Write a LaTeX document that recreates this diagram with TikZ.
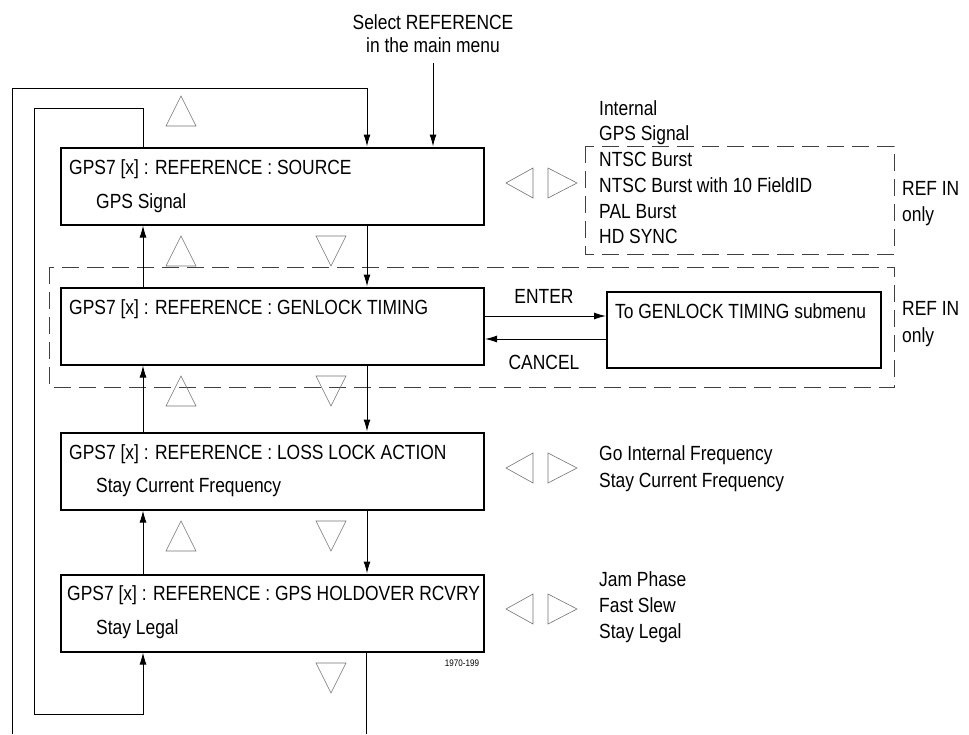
\documentclass[tikz,border=0pt]{standalone}
\usepackage{fontspec}
\setmainfont[FakeStretch=0.85]{Liberation Sans}
\usetikzlibrary{arrows.meta}
\begin{document}
\begin{tikzpicture}[x=1pt,y=-1pt,
  font=\fontsize{20.5}{24}\selectfont,
  menubox/.style={draw=black,line width=2pt,minimum width=423pt,minimum height=77pt,inner sep=0pt},
  subbox/.style={draw=black,line width=2pt,minimum width=274pt,minimum height=76pt,inner sep=0pt},
  txt/.style={anchor=base west,inner sep=0pt},
  ctxt/.style={anchor=base,inner sep=0pt},
  arr/.style={line width=1pt,-{Latex[length=12pt,width=7pt]}},
  ln/.style={line width=1pt},
  dbox/.style={draw=black!75,line width=1pt,dash pattern=on 17pt off 8pt},
  tri/.style={draw=black!55,line width=0.6pt},
  uptri/.pic={\draw[tri] (-15,15) -- (15,15) -- (0,-15) -- cycle;},
  dntri/.pic={\draw[tri] (-15,-15) -- (15,-15) -- (0,15) -- cycle;},
  lftri/.pic={\draw[tri] (13.5,-15) -- (13.5,15) -- (-13.5,0) -- cycle;},
  rttri/.pic={\draw[tri] (-14.5,-15) -- (-14.5,15) -- (14.5,0) -- cycle;},
]
\useasboundingbox (0,0) rectangle (969,734);

% dashed regions
\draw[dbox] (585,146) rectangle (894,254);
\draw[dbox] (49,267) rectangle (894,387);

% menu boxes
\node[menubox] (b1) at (272.5,186) {};
\node[menubox] (b2) at (272.5,326) {};
\node[menubox] (b3) at (272.5,471) {};
\node[menubox] (b4) at (272.5,613) {};
\node[subbox] (sub) at (744,330) {};

% box texts
\node[txt] (t1a) at (69,174) {GPS7 [x] : REFERENCE : SOURCE};
\node[txt] (t1b) at (96,208) {GPS Signal};
\node[txt] (t2a) at (69,314) {GPS7 [x] : REFERENCE : GENLOCK TIMING};
\node[txt] (t3a) at (69,459) {GPS7 [x] : REFERENCE : LOSS LOCK ACTION};
\node[txt] (t3b) at (96,492) {Stay Current Frequency};
\node[txt] (t4a) at (67,600) {GPS7 [x] : REFERENCE : GPS HOLDOVER RCVRY};
\node[txt] (t4b) at (96,634) {Stay Legal};
\node[txt] (tsub) at (615,318) {To GENLOCK TIMING submenu};

% select label
\node[ctxt] (sel1) at (433,29) {Select REFERENCE};
\node[ctxt] (sel2) at (433,52) {in the main menu};
\coordinate (selst) at (433,63);
\draw[arr] (selst) -- (selst |- b1.north);

% loops
\coordinate (oT) at (367,88);
\coordinate (oL) at (12,734);
\coordinate (oB) at (366,734);
\draw[arr] (oL) |- (oT) -- (oT |- b1.north);
\draw[ln] (b4.south -| oB) -- (oB);
\coordinate (iT) at (143,108);
\coordinate (iB) at (34,714);
\draw[arr] (b1.north -| iT) -- (iT) -| (iB) -| (b4.south -| iT);

% up arrows
\draw[arr] (b2.north -| iT) -- (b1.south -| iT);
\draw[arr] (b3.north -| iT) -- (b2.south -| iT);
\draw[arr] (b4.north -| iT) -- (b3.south -| iT);
% down arrows
\draw[arr] (b1.south -| oT) -- (b2.north -| oT);
\draw[arr] (b2.south -| oT) -- (b3.north -| oT);
\draw[arr] (b3.south -| oT) -- (b4.north -| oT);

% enter / cancel
\draw[arr] (b2.east |- 0,316) -- (sub.west |- 0,316);
\draw[arr] (sub.west |- 0,339) -- (b2.east |- 0,339);
\node[ctxt] (enter) at (544,303) {ENTER};
\node[ctxt] (cancel) at (544,369) {CANCEL};

% triangles
\pic at (181,111) {uptri};
\pic at (181,251) {uptri};
\pic at (181,391) {uptri};
\pic at (181,536) {uptri};
\pic at (331,251) {dntri};
\pic at (331,391) {dntri};
\pic at (331,536) {dntri};
\pic at (331,678) {dntri};
\pic at (519.5,183) {lftri};
\pic at (562.5,183) {rttri};
\pic at (519.5,468) {lftri};
\pic at (562.5,468) {rttri};
\pic at (519.5,609) {lftri};
\pic at (562.5,609) {rttri};

% option lists
\node[txt] (o1a) at (599,115) {Internal};
\node[txt] (o1b) at (599,140) {GPS Signal};
\node[txt] (o1c) at (599,166) {NTSC Burst};
\node[txt] (o1d) at (599,192) {NTSC Burst with 10 FieldID};
\node[txt] (o1e) at (599,218) {PAL Burst};
\node[txt] (o1f) at (599,243) {HD SYNC};
\node[txt] (r1a) at (902,195) {REF IN};
\node[txt] (r1b) at (902,221) {only};
\node[txt] (r2a) at (902,315) {REF IN};
\node[txt] (r2b) at (902,342) {only};
\node[txt] (o3a) at (599,460) {Go Internal Frequency};
\node[txt] (o3b) at (599,487) {Stay Current Frequency};
\node[txt] (o4a) at (599,586) {Jam Phase};
\node[txt] (o4b) at (599,612) {Fast Slew};
\node[txt] (o4c) at (599,638) {Stay Legal};
\node[ctxt,font=\fontsize{9.5}{11}\selectfont] (fig) at (462,666) {1970-199};
\end{tikzpicture}
\end{document}
